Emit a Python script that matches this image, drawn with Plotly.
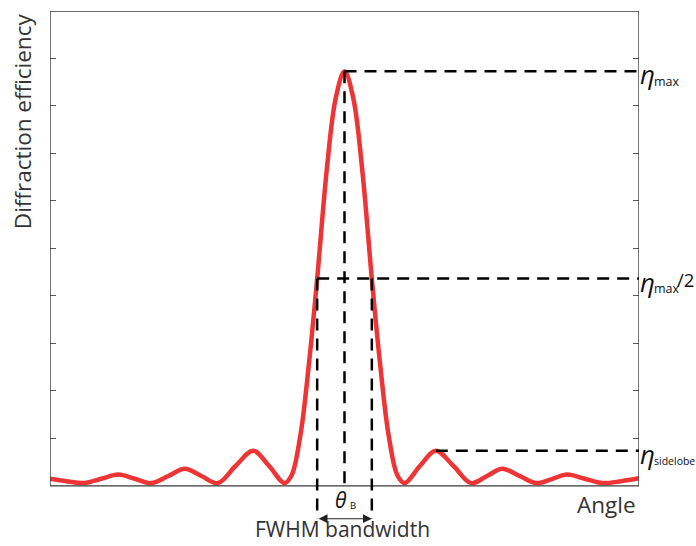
import plotly.graph_objects as go

# Angular response of a volume grating (normalised angle units, efficiency in tick units)
angle = [-5.0, -4.72, -4.42, -4.13, -3.84, -3.56, -3.28, -2.99, -2.71, -2.43,
         -2.15, -1.85, -1.55, -1.28, -1.02, -0.90, -0.75, -0.60, -0.464, -0.30,
         -0.15, 0.0, 0.15, 0.30, 0.464, 0.60, 0.75, 0.90, 1.02, 1.28,
         1.55, 1.85, 2.15, 2.42, 2.68, 2.97, 3.26, 3.53, 3.78, 4.08,
         4.38, 4.70, 5.0]
efficiency = [0.15, 0.10, 0.06, 0.15, 0.24, 0.15, 0.06, 0.21, 0.36, 0.21,
              0.06, 0.42, 0.74, 0.42, 0.06, 0.22, 1.06, 2.62, 4.365, 6.67,
              8.16, 8.73, 8.16, 6.67, 4.365, 2.62, 1.06, 0.22, 0.06, 0.42,
              0.74, 0.42, 0.06, 0.21, 0.36, 0.21, 0.06, 0.15, 0.24, 0.15,
              0.06, 0.10, 0.16]

# Marked quantities
theta_B = 0.0
eta_max = 8.73
eta_half = eta_max / 2
fwhm_lo, fwhm_hi = -0.464, 0.464
sidelobe_angle = 1.55
eta_sidelobe = 0.74

x_min, x_max = -5.0, 5.0
y_min, y_max = 0.0, 10.0
y_ticks = [1, 2, 3, 4, 5, 6, 7, 8, 9]
arrow_level = -0.69
y_bottom = arrow_level - 0.575

FONT = "Open Sans"
TXT = "#333333"
INK = "#111111"

fig = go.Figure()
fig.add_trace(go.Scatter(
    x=angle, y=efficiency, mode="lines",
    line=dict(color="#ee3434", width=4.5, shape="spline", smoothing=1.0),
    hoverinfo="skip", showlegend=False,
))

dash = dict(color="black", width=2.5, dash="12px,8px")
shapes = [
    # frame
    dict(type="rect", xref="x", yref="y", x0=x_min, x1=x_max, y0=y_min, y1=y_max,
         line=dict(color="#3a3a3a", width=1.4), layer="above"),
    # peak level and Bragg angle
    dict(type="line", xref="x", yref="y", x0=theta_B, x1=x_max, y0=eta_max, y1=eta_max, line=dash),
    dict(type="line", xref="x", yref="y", x0=theta_B, x1=theta_B, y0=eta_max, y1=y_min, line=dash),
    # half maximum
    dict(type="line", xref="x", yref="y", x0=fwhm_lo, x1=x_max, y0=eta_half, y1=eta_half, line=dash),
    dict(type="line", xref="x", yref="y", x0=fwhm_lo, x1=fwhm_lo, y0=eta_half, y1=arrow_level, line=dash),
    dict(type="line", xref="x", yref="y", x0=fwhm_hi, x1=fwhm_hi, y0=eta_half, y1=arrow_level, line=dash),
    # sidelobe level
    dict(type="line", xref="x", yref="y", x0=sidelobe_angle, x1=x_max, y0=eta_sidelobe, y1=eta_sidelobe, line=dash),
]

annotations = [
    # bandwidth arrow
    dict(x=fwhm_hi, y=arrow_level, ax=fwhm_lo, ay=arrow_level, xref="x", yref="y",
         axref="x", ayref="y", text="", showarrow=True, arrowhead=2, startarrowhead=2,
         arrowside="end+start", arrowsize=1.6, startarrowsize=1.6, arrowwidth=1.1,
         arrowcolor="#222222", standoff=0, startstandoff=0),
    dict(x=-0.03, y=y_bottom, xref="x", yref="y", text="FWHM bandwidth", showarrow=False,
         font=dict(family=FONT, size=21, color=TXT), xanchor="center", yanchor="bottom",
         yshift=1),
    dict(x=x_max, y=-0.40, xref="x", yref="y", text="Angle", showarrow=False, xshift=-1,
         font=dict(family=FONT, size=22.5, color=TXT), xanchor="right", yanchor="middle"),
    dict(x=0, y=7.68, xref="paper", yref="y", xshift=-28, text="Diffraction efficiency",
         showarrow=False, textangle=-90,
         font=dict(family=FONT, size=22.5, color=TXT), xanchor="center", yanchor="middle"),
    # Bragg angle label
    dict(x=theta_B, y=-0.30, xref="x", yref="y", text="<i>θ</i>", showarrow=False, xshift=-4,
         font=dict(family=FONT, size=21, color=INK), xanchor="center", yanchor="middle"),
    dict(x=theta_B, y=-0.42, xref="x", yref="y", text="B", showarrow=False, xshift=8,
         font=dict(family=FONT, size=9.5, color=INK), xanchor="center", yanchor="middle"),
]

# right-hand level labels
for level, sub, sub_size, tail in [(eta_max, "max", 12.5, ""), (eta_half, "max", 12.5, "/2"),
                                   (eta_sidelobe, "sidelobe", 10.5, "")]:
    annotations.append(dict(x=x_max, y=level, xref="x", yref="y", text="<i>η</i>",
                            showarrow=False, xanchor="left", yanchor="middle",
                            xshift=-1, yshift=-3,
                            font=dict(family=FONT, size=26, color=INK)))
    annotations.append(dict(x=x_max, y=level, xref="x", yref="y", text=sub,
                            showarrow=False, xanchor="left", yanchor="middle",
                            xshift=13, yshift=-10,
                            font=dict(family=FONT, size=sub_size, color=INK)))
    if tail:
        annotations.append(dict(x=x_max, y=level, xref="x", yref="y", text=tail,
                                showarrow=False, xanchor="left", yanchor="middle",
                                xshift=36, yshift=-1,
                                font=dict(family=FONT, size=18.5, color=INK)))

fig.update_layout(
    width=696, height=546,
    margin=dict(l=50, r=57, t=11, b=0, pad=0),
    paper_bgcolor="white", plot_bgcolor="white",
    shapes=shapes, annotations=annotations,
    xaxis=dict(range=[x_min, x_max], showgrid=False, zeroline=False, showline=False,
               showticklabels=False, ticks=""),
    yaxis=dict(range=[y_bottom, y_max], showgrid=False, zeroline=False,
               showline=True, linecolor="rgba(0,0,0,0)", mirror="ticks",
               ticks="inside", ticklen=6, tickwidth=1.4, tickcolor="#555555",
               tickvals=y_ticks, showticklabels=False),
)

fig.write_html("out.html")
